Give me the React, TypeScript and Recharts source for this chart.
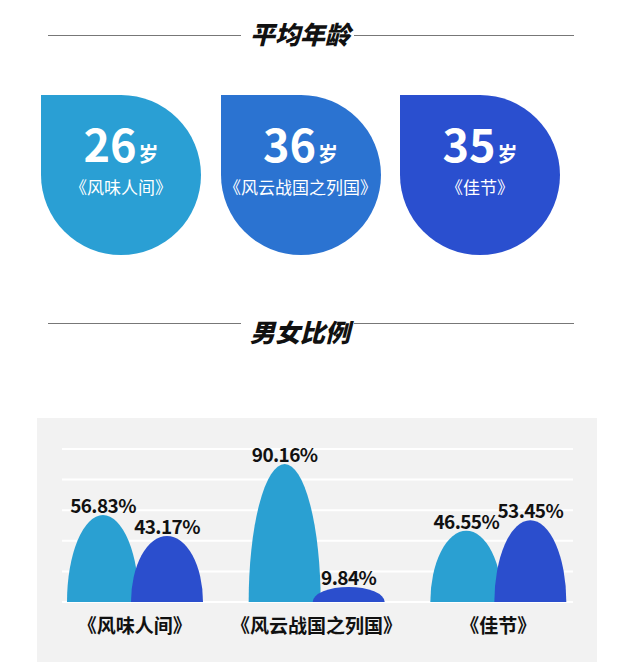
import { Bar, BarChart, CartesianGrid, LabelList, XAxis, YAxis } from "recharts";

const shows = ["《风味人间》", "《风云战国之列国》", "《佳节》"];
const avgAge = [26, 36, 35];
const dropColors = ["#2a9fd4", "#2b73d1", "#2a4fcf"];
const maleShare = [56.83, 90.16, 46.55];
const femaleShare = [43.17, 9.84, 53.45];
const shareTicks = [0, 20, 40, 60, 80, 100];

const genderData = shows.map((show, i) => ({ show, male: maleShare[i], female: femaleShare[i] }));

const FONT = "'Noto Sans CJK SC', 'Noto Sans', sans-serif";

// half-ellipse "arch" bars
function Arch(props: any) {
  const { x, y, width, height, fill } = props;
  if (!height || height <= 0) return null;
  const b = y + height;
  const d = `M${x},${b} A${width / 2},${height} 0 0 1 ${x + width},${b} Z`;
  return <path d={d} fill={fill} />;
}

function Title({ text, top, lineY }: { text: string; top: number; lineY: number }) {
  return (
    <>
      <div style={{ position: "absolute", left: 48, top: lineY, width: 193, height: 1, background: "#777" }} />
      <div style={{ position: "absolute", left: 354, top: lineY, width: 220, height: 1, background: "#777" }} />
      <div
        style={{
          position: "absolute",
          left: 200,
          top,
          width: 200,
          textAlign: "center",
          fontSize: 25,
          lineHeight: "25px",
          fontWeight: 900,
          fontStyle: "italic",
          color: "#111",
        }}
      >
        {text}
      </div>
    </>
  );
}

const valueLabelStyle = { fontSize: 19, fontWeight: 700, letterSpacing: -0.6 };

export default function App() {
  return (
    <div
      style={{
        position: "absolute",
        left: 0,
        top: 0,
        width: 640,
        height: 664,
        overflow: "hidden",
        background: "#fff",
        fontFamily: FONT,
      }}
    >
      <Title text="平均年龄" top={21} lineY={35} />

      {shows.map((show, i) => (
        <div
          key={show}
          style={{
            position: "absolute",
            left: 41 + i * 179.5,
            top: 95,
            width: 160,
            height: 160,
            background: dropColors[i],
            borderRadius: "0 50% 50% 50%",
            color: "#fff",
          }}
        >
          <div
            style={{
              position: "absolute",
              left: 0,
              top: 28,
              width: 160,
              height: 40,
              textAlign: "center",
              lineHeight: "40px",
              whiteSpace: "nowrap",
            }}
          >
            <span style={{ fontSize: 45, fontWeight: 700 }}>{avgAge[i]}</span>
            <span style={{ fontSize: 20, fontWeight: 700, marginLeft: 2 }}>岁</span>
          </div>
          <div
            style={{
              position: "absolute",
              left: -10,
              top: 83,
              width: 180,
              textAlign: "center",
              fontSize: 17,
              lineHeight: 1,
              whiteSpace: "nowrap",
            }}
          >
            {show}
          </div>
        </div>
      ))}

      <Title text="男女比例" top={319} lineY={323} />

      <div style={{ position: "absolute", left: 37, top: 418, width: 560, height: 244, background: "#f2f2f2" }}>
        <BarChart
          width={560}
          height={244}
          data={genderData}
          margin={{ top: 31, right: 8, bottom: 30, left: 7 }}
          barSize={72}
          barGap={-8}
        >
          <CartesianGrid vertical={false} stroke="#ffffff" strokeWidth={2} x={25} width={511} />
          <YAxis hide domain={[0, 100]} ticks={shareTicks} />
          <XAxis
            dataKey="show"
            axisLine={false}
            tickLine={false}
            interval={0}
            height={30}
            tickMargin={12}
            tick={{ fontSize: 19, fontWeight: 700, fill: "#111" }}
          />
          <Bar dataKey="male" fill="#2aa0d2" shape={<Arch />} isAnimationActive={false}>
            <LabelList
              dataKey="male"
              position="top"
              offset={2}
              formatter={(v: any) => `${v}%`}
              fill="#111"
              style={valueLabelStyle}
            />
          </Bar>
          <Bar dataKey="female" fill="#2b4ecd" shape={<Arch />} isAnimationActive={false}>
            <LabelList
              dataKey="female"
              position="top"
              offset={2}
              formatter={(v: any) => `${v}%`}
              fill="#111"
              style={valueLabelStyle}
            />
          </Bar>
        </BarChart>
      </div>
    </div>
  );
}
